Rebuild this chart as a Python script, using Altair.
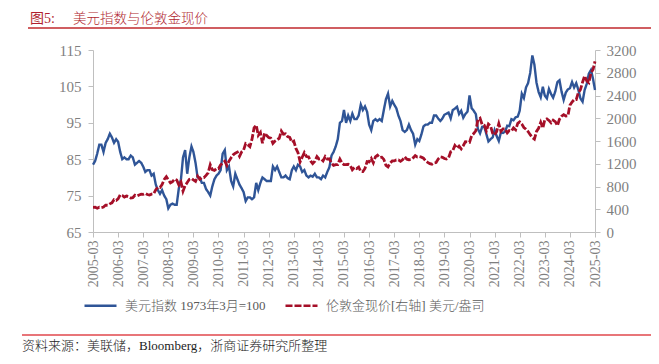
import altair as alt
import pandas as pd

S1 = "美元指数 1973年3月=100"
S2 = "伦敦金现价[右轴] 美元/盎司"

# Monthly readings, 2005-03 .. 2025-03
dxy = [
    83.5, 84.5, 86.5, 89.0, 89.0, 87.0, 89.5, 90.5, 92.0, 91.0,              # 2005 (Mar-Dec)
    89.5, 90.5, 89.8, 87.0, 85.0, 85.5, 85.0, 85.0, 86.0, 85.5, 83.5, 84.0,  # 2006
    84.5, 84.0, 83.0, 81.5, 82.0, 82.0, 80.5, 81.0, 78.0, 76.5, 75.5, 76.5,  # 2007
    75.0, 74.0, 71.5, 72.5, 72.8, 72.5, 72.5, 77.0, 79.5, 85.5, 87.5, 81.0,  # 2008
    85.5, 88.5, 87.0, 84.0, 80.0, 80.0, 78.5, 78.5, 76.8, 76.0, 75.0, 77.5,  # 2009
    79.5, 80.5, 81.0, 82.0, 86.5, 87.5, 82.0, 83.0, 79.0, 77.5, 81.0, 79.5,  # 2010
    78.0, 77.0, 76.0, 73.5, 74.5, 74.5, 74.0, 74.5, 78.5, 76.5, 78.5, 80.0,  # 2011
    79.5, 79.0, 79.0, 79.0, 83.0, 82.0, 83.0, 81.5, 80.0, 80.0, 80.5, 79.8,  # 2012
    79.5, 82.0, 83.0, 82.0, 83.5, 83.0, 81.5, 82.0, 80.5, 80.0, 80.5, 80.2,  # 2013
    81.0, 80.0, 80.0, 79.5, 80.5, 80.0, 81.5, 82.8, 86.0, 87.0, 88.5, 90.5,  # 2014
    95.0, 95.5, 98.5, 95.0, 97.0, 95.5, 97.5, 96.0, 96.0, 97.0, 100.0, 98.5, # 2015
    99.5, 98.0, 94.5, 93.0, 95.5, 96.0, 95.5, 96.0, 95.5, 98.5, 101.5, 103.0,# 2016
    99.5, 101.0, 100.0, 99.0, 97.0, 95.5, 93.0, 92.5, 93.0, 94.5, 93.0, 92.0,# 2017
    89.0, 90.5, 90.0, 91.8, 94.0, 94.5, 94.5, 95.0, 95.0, 97.0, 97.0, 96.2,  # 2018
    95.5, 96.2, 97.2, 97.5, 97.8, 96.2, 98.5, 98.9, 99.4, 97.4, 98.3, 96.4,  # 2019
    97.4, 98.1, 102.5, 99.0, 98.3, 97.4, 93.3, 92.1, 93.9, 94.0, 91.9, 89.9, # 2020
    90.5, 91.0, 93.0, 91.3, 90.0, 92.4, 92.2, 92.6, 94.2, 94.1, 96.0, 95.7,  # 2021
    96.5, 96.7, 98.3, 103.0, 101.8, 104.7, 105.9, 108.7, 113.5, 111.0, 106.0, 103.5,  # 2022
    102.0, 104.9, 102.5, 101.7, 104.3, 102.9, 101.9, 103.6, 106.2, 106.7, 103.5, 101.3, # 2023
    103.3, 104.2, 104.5, 106.2, 104.7, 105.9, 104.1, 101.7, 100.8, 104.0, 105.7, 108.5, # 2024
    109.5, 107.0, 104.0,                                                     # 2025 (Jan-Mar)
]

gold = [
    434, 435, 418, 437, 429, 438, 473, 470, 495, 513,                        # 2005 (Mar-Dec)
    569, 556, 582, 654, 643, 614, 632, 623, 599, 604, 646, 632,              # 2006
    650, 665, 662, 679, 659, 650, 666, 673, 743, 789, 783, 834,              # 2007
    923, 972, 917, 864, 886, 930, 914, 829, 880, 718, 815, 869,              # 2008
    927, 942, 917, 891, 980, 927, 955, 955, 996, 1040, 1182, 1096,           # 2009
    1082, 1116, 1113, 1180, 1212, 1245, 1169, 1246, 1307, 1357, 1385, 1405,  # 2010
    1332, 1410, 1439, 1556, 1536, 1500, 1628, 1830, 1880, 1700, 1750, 1560,  # 2011
    1738, 1697, 1662, 1651, 1559, 1598, 1622, 1648, 1776, 1720, 1726, 1676,  # 2012
    1664, 1578, 1598, 1469, 1394, 1234, 1314, 1396, 1327, 1323, 1250, 1202,  # 2013
    1244, 1326, 1284, 1288, 1250, 1327, 1282, 1287, 1210, 1171, 1183, 1184,  # 2014
    1283, 1213, 1183, 1183, 1190, 1172, 1095, 1135, 1115, 1142, 1064, 1061,  # 2015
    1118, 1238, 1233, 1292, 1215, 1322, 1351, 1309, 1316, 1277, 1173, 1146,  # 2016
    1211, 1249, 1249, 1268, 1268, 1242, 1269, 1322, 1280, 1271, 1275, 1303,  # 2017
    1345, 1318, 1325, 1316, 1299, 1253, 1224, 1201, 1192, 1215, 1221, 1282,  # 2018
    1321, 1313, 1292, 1284, 1306, 1409, 1427, 1520, 1472, 1511, 1463, 1517,  # 2019
    1589, 1585, 1577, 1694, 1730, 1781, 1975, 2000, 1886, 1879, 1777, 1898,  # 2020
    1863, 1734, 1708, 1769, 1907, 1770, 1814, 1814, 1743, 1783, 1775, 1829,  # 2021
    1796, 1909, 1937, 1897, 1837, 1807, 1766, 1711, 1661, 1634, 1768, 1824,  # 2022
    1928, 1827, 1969, 1990, 1962, 1919, 1965, 1940, 1871, 1983, 2036, 2063,  # 2023
    2040, 2044, 2230, 2286, 2327, 2327, 2447, 2503, 2634, 2744, 2657, 2625,  # 2024
    2798, 2858, 3000,                                                        # 2025 (Jan-Mar)
]

dates = pd.date_range("2005-03-01", "2025-03-01", freq="MS").strftime("%Y-%m-%d").tolist()
assert len(dates) == len(dxy) == len(gold), (len(dates), len(dxy), len(gold))

tick_years = list(range(2005, 2026))
left_ticks = [65, 75, 85, 95, 105, 115]
right_ticks = [0, 400, 800, 1200, 1600, 2000, 2400, 2800, 3200]

df = pd.DataFrame(
    {"date": dates * 2,
     "series": [S1] * len(dates) + [S2] * len(dates),
     "value": dxy + gold}
)

FONT = "Liberation Serif, Noto Sans CJK SC"
CJK = "Noto Sans CJK SC"
BLUE = "#2F5597"
RED = "#A50F28"
AX = "#BFBFBF"
LAB = "#7F7F7F"

x_enc = alt.X(
    "date:T",
    scale=alt.Scale(type="utc", domain=["2005-03-01", "2025-03-01"]),
    axis=alt.Axis(
        values=[alt.DateTime(year=y, month=3, date=1, utc=True) for y in tick_years],
        labelExpr="utcFormat(datum.value, '%Y-%m')", labelAngle=270, title=None,
        grid=False, domainColor=AX, tickColor=AX, tickSize=5,
        labelColor=LAB, labelFont=FONT, labelFontSize=14, labelPadding=3,
    ),
)

color_enc = alt.Color(
    "series:N",
    scale=alt.Scale(domain=[S1, S2], range=[BLUE, RED]),
    legend=alt.Legend(title=None),
)
dash_enc = alt.StrokeDash(
    "series:N",
    scale=alt.Scale(domain=[S1, S2], range=[[1, 0], [7, 2]]),
    legend=alt.Legend(title=None),
)

base = alt.Chart(df)

blue = base.transform_filter(alt.datum.series == S1).mark_line(strokeWidth=2.4).encode(
    x=x_enc,
    y=alt.Y("value:Q",
            scale=alt.Scale(domain=[65, 115], nice=False, zero=False),
            axis=alt.Axis(values=left_ticks, title=None, grid=False,
                          domainColor=AX, tickColor=AX, tickSize=5, labelColor=LAB,
                          labelFont=FONT, labelFontSize=15, labelPadding=7)),
    color=color_enc,
    strokeDash=dash_enc,
)

red = base.transform_filter(alt.datum.series == S2).mark_line(strokeWidth=2.8).encode(
    x=x_enc,
    y=alt.Y("value:Q",
            scale=alt.Scale(domain=[0, 3200], nice=False),
            axis=alt.Axis(values=right_ticks, format="d", orient="right", title=None,
                          grid=False, domainColor=AX, tickColor=AX, tickSize=5,
                          labelColor=LAB, labelFont=FONT, labelFontSize=15, labelPadding=6)),
    color=color_enc,
    strokeDash=dash_enc,
)

one = alt.Data(values=[{}])
TITLE_RED = "#B01E2E"

title_a = alt.Chart(one).mark_text(
    align="left", baseline="middle", font=FONT, fontSize=14, color=TITLE_RED
).encode(x=alt.value(-63), y=alt.value(-31), text=alt.value("图5:"))

title_b = alt.Chart(one).mark_text(
    align="left", baseline="middle", font=CJK, fontSize=13.5, fontWeight=300, color=TITLE_RED
).encode(x=alt.value(-20), y=alt.value(-31), text=alt.value("美元指数与伦敦金现价"))

top_rule = alt.Chart(one).mark_rule(color="#C0282D", strokeWidth=1.3).encode(
    x=alt.value(-65), x2=alt.value(560), y=alt.value(-22))

bottom_rule = alt.Chart(one).mark_rule(color="#E0474C", strokeWidth=1.3).encode(
    x=alt.value(-71), x2=alt.value(560), y=alt.value(285))

source_txt = alt.Chart(one).mark_text(
    align="left", baseline="middle", font=FONT, fontSize=13, fontWeight=300, color="#222222"
).encode(x=alt.value(-71), y=alt.value(296),
         text=alt.value("资料来源：美联储，Bloomberg，浙商证券研究所整理"))

chart = alt.layer(blue, red, title_a, title_b, top_rule, bottom_rule, source_txt).resolve_scale(
    y="independent"
).properties(
    width=502, height=182,
    autosize=alt.AutoSizeParams(type="none"),
    padding={"left": 85, "top": 42, "right": 56, "bottom": 124},
).configure_view(stroke=None).configure_legend(
    orient="none", legendX=-10, legendY=238, direction="horizontal",
    symbolType="stroke", symbolSize=1024, symbolStrokeWidth=2.6,
    labelFont=FONT, labelFontSize=13, labelFontWeight=300, labelColor="#595959", labelLimit=400,
    columnPadding=14, labelOffset=7,
)

chart.save("out.html", embed_options={"renderer": "svg", "actions": False})
